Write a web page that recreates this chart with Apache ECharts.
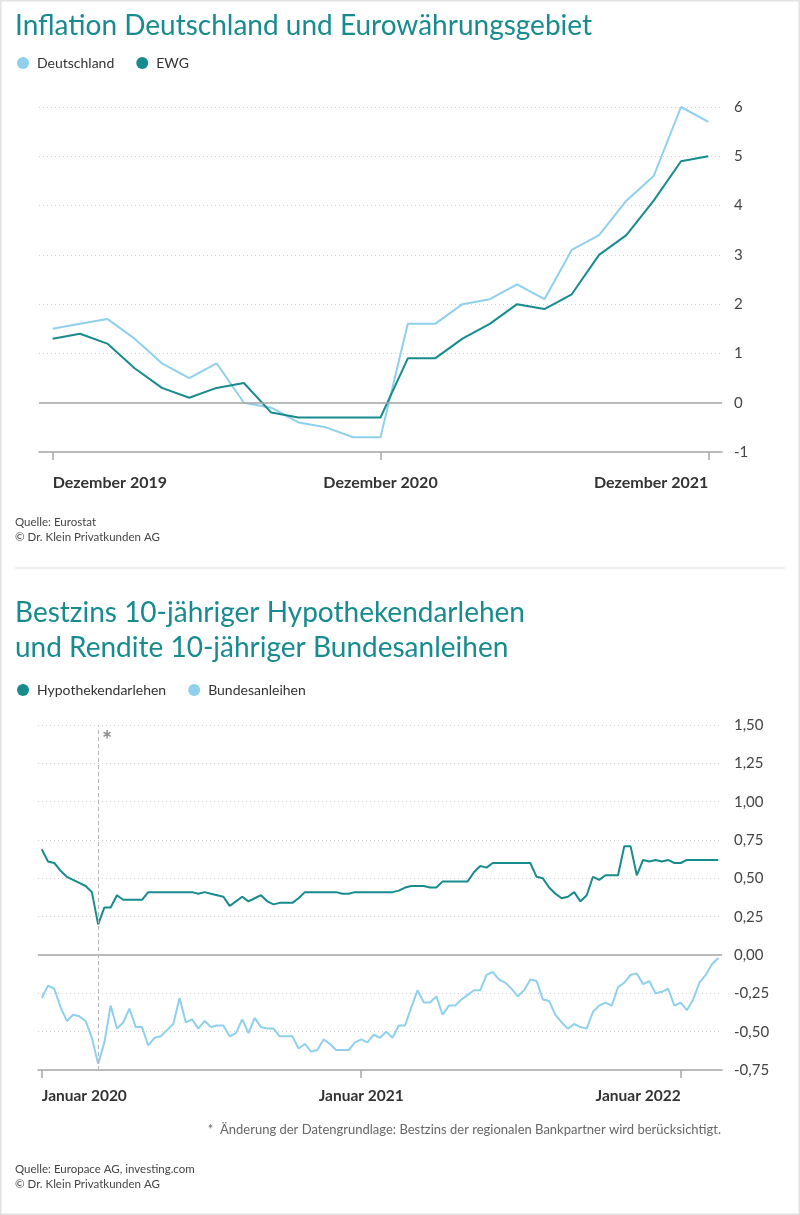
<!DOCTYPE html>
<html>
<head>
<meta charset="utf-8">
<script src="https://cdn.jsdelivr.net/npm/echarts@6/dist/echarts.min.js"></script>
<style>
html,body{margin:0;padding:0;background:#fff;}
#c{width:800px;height:1215px;}
</style>
</head>
<body>
<div id="c"></div>
<script>
// ---------- Chart 1: Inflation ----------
const inflTickLabels = ['Dezember 2019', 'Dezember 2020', 'Dezember 2021'];
const inflTickIdx = [0, 12, 24];
const deutschland = [1.5,1.6,1.7,1.3,0.8,0.5,0.8,0.0,-0.1,-0.4,-0.5,-0.7,-0.7,1.6,1.6,2.0,2.1,2.4,2.1,3.1,3.4,4.1,4.6,6.0,5.7];
const ewg = [1.3,1.4,1.2,0.7,0.3,0.1,0.3,0.4,-0.2,-0.3,-0.3,-0.3,-0.3,0.9,0.9,1.3,1.6,2.0,1.9,2.2,3.0,3.4,4.1,4.9,5.0];

// ---------- Chart 2: Zinsen (weekly) ----------
const zinsTickLabels = ['Januar 2020', 'Januar 2021', 'Januar 2022'];
const zinsTickIdx = [0, 51, 102];
const markerIdx = 9;
const hypothek = [0.69,0.61,0.60,0.55,0.51,0.49,0.47,0.45,0.41,0.20,
0.31,0.31,0.39,0.36,0.36,0.36,0.36,0.41,0.41,0.41,
0.41,0.41,0.41,0.41,0.41,0.40,0.41,0.40,0.39,0.38,
0.32,0.35,0.38,0.35,0.37,0.39,0.35,0.33,0.34,0.34,
0.34,0.37,0.41,0.41,0.41,0.41,0.41,0.41,0.40,0.40,
0.41,0.41,0.41,0.41,0.41,0.41,0.41,0.42,0.44,0.45,
0.45,0.45,0.44,0.44,0.48,0.48,0.48,0.48,0.48,0.54,
0.58,0.57,0.60,0.60,0.60,0.60,0.60,0.60,0.60,0.51,
0.50,0.44,0.40,0.37,0.38,0.41,0.35,0.39,0.51,0.49,
0.52,0.52,0.52,0.71,0.71,0.52,0.62,0.61,0.62,0.61,
0.62,0.60,0.60,0.62,0.62,0.62,0.62,0.62,0.62];
const bund = [-0.28,-0.20,-0.22,-0.34,-0.43,-0.39,-0.40,-0.43,-0.54,-0.71,
-0.57,-0.33,-0.48,-0.44,-0.35,-0.47,-0.47,-0.59,-0.54,-0.53,
-0.49,-0.45,-0.28,-0.44,-0.42,-0.48,-0.43,-0.47,-0.46,-0.46,
-0.53,-0.51,-0.42,-0.51,-0.41,-0.47,-0.48,-0.48,-0.53,-0.53,
-0.53,-0.61,-0.58,-0.63,-0.62,-0.55,-0.58,-0.62,-0.62,-0.62,
-0.57,-0.55,-0.57,-0.52,-0.54,-0.50,-0.54,-0.46,-0.46,-0.34,
-0.23,-0.31,-0.31,-0.27,-0.39,-0.33,-0.33,-0.29,-0.26,-0.23,
-0.23,-0.13,-0.11,-0.16,-0.18,-0.22,-0.27,-0.23,-0.16,-0.17,
-0.29,-0.30,-0.39,-0.44,-0.48,-0.45,-0.47,-0.48,-0.37,-0.33,
-0.31,-0.33,-0.21,-0.18,-0.13,-0.12,-0.19,-0.17,-0.25,-0.24,
-0.22,-0.33,-0.31,-0.36,-0.29,-0.18,-0.13,-0.06,-0.02];

const TEAL = '#178b8e';
const LIGHT = '#8fd0ec';
const FONT = 'Lato';
const toPairs = arr => arr.map((v, i) => [i, v]);

const chart = echarts.init(document.getElementById('c'), null, {renderer: 'canvas'});

const axisGray = '#a6a6a6';
const gridDot = {show: true, lineStyle: {color: '#d0d0d0', type: [1, 3], width: 1}};

const option = {
  backgroundColor: '#ffffff',
  animation: false,
  textStyle: {fontFamily: FONT},
  title: [
    {text: 'Inflation Deutschland und Eurowährungsgebiet', left: 10, top: 7,
     textStyle: {color: TEAL, fontSize: 28, fontWeight: 'normal', fontFamily: FONT}},
    {text: 'Quelle: Eurostat\n© Dr. Klein Privatkunden AG', left: 10, top: 510,
     textStyle: {color: '#444', fontSize: 11.5, fontWeight: 'normal', lineHeight: 15, fontFamily: FONT}},
    {text: 'Bestzins 10-jähriger Hypothekendarlehen\nund Rendite 10-jähriger Bundesanleihen', left: 10, top: 590,
     textStyle: {color: TEAL, fontSize: 28, fontWeight: 'normal', lineHeight: 35, fontFamily: FONT}},
    {text: '*  Änderung der Datengrundlage: Bestzins der regionalen Bankpartner wird berücksichtigt.', right: 74, top: 1118,
     textStyle: {color: '#666', fontSize: 13, fontWeight: 'normal', fontFamily: FONT}},
    {text: 'Quelle: Europace AG, investing.com\n© Dr. Klein Privatkunden AG', left: 10, top: 1157,
     textStyle: {color: '#444', fontSize: 11.5, fontWeight: 'normal', lineHeight: 15, fontFamily: FONT}}
  ],
  legend: [
    {data: ['Deutschland', 'EWG'], left: 12, top: 51, icon: 'circle', itemWidth: 12, itemHeight: 12,
     itemGap: 22, textStyle: {color: '#333', fontSize: 14, fontFamily: FONT, padding: [0, 0, 0, 3]}},
    {data: ['Hypothekendarlehen', 'Bundesanleihen'], left: 12, top: 678, icon: 'circle', itemWidth: 12, itemHeight: 12,
     itemGap: 22, textStyle: {color: '#333', fontSize: 14, fontFamily: FONT, padding: [0, 0, 0, 3]}}
  ],
  graphic: [
    {type: 'rect', shape: {x: 0.5, y: 0.5, width: 799, height: 1214}, style: {fill: 'none', stroke: '#e2e2e2', lineWidth: 2}, silent: true},
    {type: 'line', shape: {x1: 15, y1: 568, x2: 785, y2: 568}, style: {stroke: '#e6e6e6', lineWidth: 1.5}, silent: true}
  ],
  grid: [
    {left: 39, width: 683, top: 107, height: 345, containLabel: false},
    {left: 38, width: 684, top: 725, height: 345, containLabel: false}
  ],
  xAxis: [
    {gridIndex: 0, type: 'value', min: -0.5, max: 24.5,
     axisLine: {show: true, onZero: false, lineStyle: {color: axisGray, width: 1.5}},
     axisTick: {show: true, customValues: inflTickIdx, length: 8, lineStyle: {color: axisGray, width: 1.5}},
     axisLabel: {show: true, customValues: inflTickIdx, margin: 23, color: '#333', fontSize: 16, fontWeight: 'bold', fontFamily: FONT,
       alignMinLabel: 'left', alignMaxLabel: 'right',
       formatter: v => inflTickLabels[inflTickIdx.indexOf(Math.round(v))] || ''},
     splitLine: {show: false}},
    {gridIndex: 1, type: 'value', min: -0.6, max: 108.6,
     axisLine: {show: true, onZero: false, lineStyle: {color: axisGray, width: 1.5}},
     axisTick: {show: true, customValues: zinsTickIdx, length: 8, lineStyle: {color: axisGray, width: 1.5}},
     axisLabel: {show: true, customValues: zinsTickIdx, margin: 18, color: '#333', fontSize: 15.5, fontWeight: 'bold', fontFamily: FONT,
       alignMinLabel: 'left', alignMaxLabel: 'right',
       formatter: v => zinsTickLabels[zinsTickIdx.indexOf(Math.round(v))] || ''},
     splitLine: {show: false}}
  ],
  yAxis: [
    {gridIndex: 0, type: 'value', position: 'right', min: -1, max: 6, interval: 1,
     axisLine: {show: false}, axisTick: {show: false},
     axisLabel: {margin: 12, color: '#444', fontSize: 15, fontFamily: FONT},
     splitLine: gridDot},
    {gridIndex: 1, type: 'value', position: 'right', min: -0.75, max: 1.5, interval: 0.25,
     axisLine: {show: false}, axisTick: {show: false},
     axisLabel: {margin: 12, color: '#444', fontSize: 15, fontFamily: FONT,
       formatter: v => v.toFixed(2).replace('.', ',')},
     splitLine: gridDot}
  ],
  series: [
    {name: 'Deutschland', type: 'line', xAxisIndex: 0, yAxisIndex: 0, data: toPairs(deutschland),
     showSymbol: false, symbol: 'circle', color: LIGHT, lineStyle: {width: 2, color: LIGHT}, silent: true,
     markLine: {silent: true, symbol: 'none', label: {show: false},
       lineStyle: {color: axisGray, type: 'solid', width: 1.5}, data: [{yAxis: 0}]}},
    {name: 'EWG', type: 'line', xAxisIndex: 0, yAxisIndex: 0, data: toPairs(ewg),
     showSymbol: false, symbol: 'circle', color: TEAL, lineStyle: {width: 2, color: TEAL}, silent: true},
    {name: 'Hypothekendarlehen', type: 'line', xAxisIndex: 1, yAxisIndex: 1, data: toPairs(hypothek),
     showSymbol: false, symbol: 'circle', color: TEAL, lineStyle: {width: 2, color: TEAL}, silent: true,
     markPoint: {silent: true, symbol: 'circle', symbolSize: 0,
       label: {show: true, formatter: '*', color: '#8a8a8a', fontSize: 24, fontWeight: 'bold', offset: [9, 16]},
       data: [{coord: [markerIdx, 1.5]}]}},
    {name: 'Bundesanleihen', type: 'line', xAxisIndex: 1, yAxisIndex: 1, data: toPairs(bund),
     showSymbol: false, symbol: 'circle', color: LIGHT, lineStyle: {width: 2, color: LIGHT}, silent: true,
     markLine: {silent: true, symbol: 'none', label: {show: false},
       data: [
         {yAxis: 0, lineStyle: {color: axisGray, type: 'solid', width: 1.5}},
         [{coord: [markerIdx, -0.75], lineStyle: {color: '#b5b5b5', type: [4, 3], width: 1}}, {coord: [markerIdx, 1.49]}]
       ]}}
  ]
};
chart.setOption(option);
</script>
</body>
</html>
